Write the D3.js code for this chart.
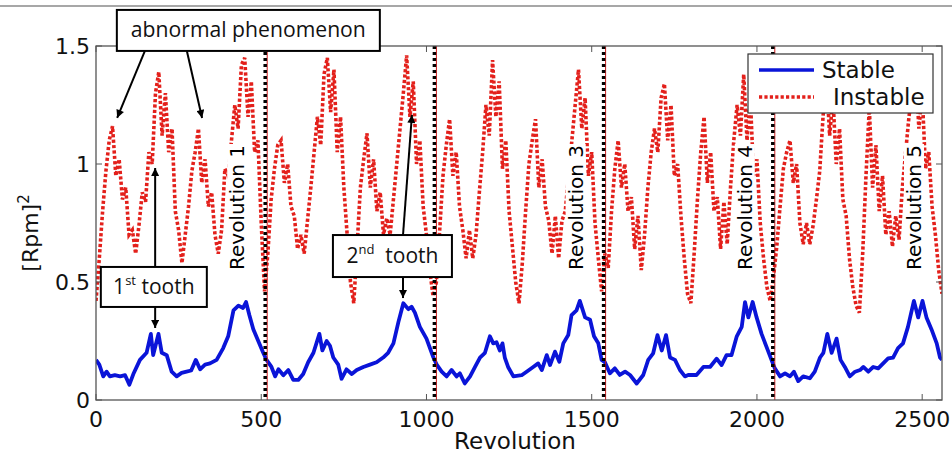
<!DOCTYPE html>
<html><head><meta charset="utf-8">
<script src="https://cdn.jsdelivr.net/npm/d3@7"></script>
<style>body{margin:0;background:#fff;} svg{display:block;}</style>
</head><body><svg id="c" width="952" height="455"></svg>
<script>
// ---------- data ----------
const xTicks = [0, 500, 1000, 1500, 2000, 2500];
const yTicks = [0, 0.5, 1, 1.5];
const xDomain = [0, 2560];
const yDomain = [0, 1.5];
const revolutionBounds = [512, 1024, 1536, 2048];
const revolutionLabels = [
  {rev: 512, text: "Revolution 1"},
  {rev: 1536, text: "Revolution 3"},
  {rev: 2048, text: "Revolution 4"},
  {rev: 2560, text: "Revolution 5"}
];
const seriesNames = ["Stable", "Instable"];

// Instable signal, sampled every 10 revolutions (0 .. 2560)
const instableStep = 10;
const instable = [
  0.42,0.60,0.80,0.97,1.10,1.16,0.95,1.02,0.85,0.90,
  0.70,0.72,0.62,0.74,0.88,0.84,1.05,1.00,1.30,1.39,
  1.12,1.30,1.05,1.15,0.80,0.72,0.58,0.70,0.82,0.97,
  1.05,1.15,0.92,1.02,0.82,0.88,0.70,0.62,0.72,0.98,
  0.95,1.10,1.25,1.15,1.42,1.45,1.20,1.35,1.05,1.10,
  0.75,0.46,0.62,0.85,0.98,1.08,1.10,0.92,1.00,0.82,
  0.78,0.64,0.70,0.62,0.76,0.90,1.05,1.20,1.08,1.38,
  1.45,1.22,1.40,1.05,1.20,0.90,0.70,0.50,0.41,0.65,
  0.90,1.02,1.13,0.90,1.02,0.80,0.88,0.70,0.77,0.70,
  0.85,1.00,1.15,1.30,1.46,1.20,1.35,1.00,1.10,0.82,
  0.70,0.55,0.44,0.50,0.72,0.95,1.08,1.19,0.95,1.05,
  0.82,0.72,0.60,0.72,0.60,0.70,0.88,1.05,1.25,1.12,
  1.44,1.20,1.35,0.98,1.10,0.80,0.65,0.50,0.41,0.58,
  0.80,1.00,1.10,1.19,0.90,1.02,0.82,0.76,0.62,0.78,
  0.60,0.76,0.80,0.95,1.10,1.25,1.40,1.15,1.28,0.95,
  1.05,0.75,0.60,0.46,0.62,0.56,0.80,0.98,1.10,0.90,
  1.00,0.80,0.86,0.64,0.78,0.55,0.70,0.90,1.05,1.15,
  1.05,1.28,1.34,1.10,1.25,0.95,1.00,0.78,0.60,0.45,
  0.41,0.62,0.85,1.05,1.20,0.92,1.05,0.80,0.86,0.64,
  0.84,0.66,0.90,1.10,1.25,1.12,1.38,1.10,1.28,0.95,
  1.02,0.75,0.60,0.48,0.42,0.52,0.65,0.82,0.98,1.05,
  1.10,0.92,1.00,0.75,0.66,0.75,0.66,0.74,0.85,0.97,
  1.20,1.38,1.12,1.28,1.00,1.15,0.85,0.78,0.60,0.48,
  0.40,0.37,0.62,0.95,1.24,0.90,1.08,0.80,0.95,0.70,
  0.80,0.65,0.78,0.68,0.90,1.05,1.20,1.30,1.42,1.15,
  1.30,0.98,1.05,0.82,0.70,0.55,0.45
];

// Stable signal: [revolution, value]
const stable = [
  [0,0.17],[10,0.15],[22,0.10],[32,0.12],[42,0.10],[57,0.105],[73,0.10],[88,0.105],[101,0.065],[113,0.11],
  [133,0.17],[153,0.20],[166,0.28],[173,0.19],[189,0.28],[199,0.20],[214,0.19],[229,0.12],[244,0.10],[259,0.115],
  [274,0.12],[288,0.125],[302,0.17],[315,0.13],[330,0.15],[345,0.155],[365,0.17],[385,0.22],[400,0.27],[416,0.38],
  [431,0.40],[445,0.39],[454,0.415],[464,0.36],[476,0.30],[491,0.25],[506,0.20],
  [516,0.17],[531,0.14],[542,0.10],[552,0.13],[567,0.105],[582,0.127],[597,0.085],[612,0.085],[627,0.11],[642,0.16],
  [658,0.20],[676,0.28],[685,0.21],[698,0.25],[708,0.23],[718,0.18],[733,0.15],[743,0.09],[758,0.13],[774,0.11],
  [789,0.127],[809,0.14],[829,0.15],[849,0.16],[869,0.18],[884,0.20],[900,0.24],[915,0.33],[930,0.41],[945,0.385],
  [955,0.395],[965,0.37],[980,0.31],[1000,0.26],[1021,0.18],
  [1031,0.15],[1046,0.12],[1061,0.10],[1076,0.127],[1091,0.10],[1101,0.113],[1116,0.07],[1132,0.10],[1147,0.14],[1162,0.18],
  [1177,0.20],[1192,0.27],[1202,0.24],[1212,0.245],[1222,0.21],[1230,0.24],[1237,0.18],[1247,0.14],[1263,0.10],[1288,0.105],
  [1303,0.12],[1323,0.14],[1338,0.155],[1349,0.127],[1364,0.19],[1374,0.148],[1389,0.205],[1402,0.162],[1414,0.24],[1429,0.275],
  [1439,0.36],[1454,0.38],[1464,0.42],[1480,0.35],[1495,0.34],[1507,0.27],[1520,0.24],[1530,0.17],[1540,0.16],
  [1555,0.113],[1570,0.134],[1585,0.106],[1601,0.12],[1616,0.106],[1636,0.07],[1656,0.106],[1671,0.17],[1686,0.198],[1699,0.275],
  [1712,0.21],[1725,0.275],[1737,0.18],[1752,0.17],[1767,0.127],[1782,0.10],[1792,0.106],[1817,0.106],[1838,0.14],[1858,0.14],
  [1878,0.175],[1893,0.148],[1908,0.19],[1923,0.19],[1939,0.27],[1954,0.31],[1964,0.415],[1974,0.35],[1987,0.415],[1999,0.35],
  [2014,0.28],[2029,0.225],[2044,0.17],[2054,0.134],
  [2070,0.10],[2085,0.113],[2100,0.10],[2112,0.12],[2125,0.08],[2140,0.10],[2160,0.092],[2175,0.12],[2191,0.18],[2201,0.20],
  [2213,0.28],[2226,0.20],[2241,0.26],[2253,0.17],[2266,0.14],[2281,0.10],[2297,0.12],[2312,0.127],[2322,0.14],[2337,0.12],
  [2352,0.14],[2367,0.134],[2382,0.155],[2397,0.176],[2412,0.18],[2427,0.22],[2442,0.24],[2457,0.31],[2475,0.42],[2488,0.35],
  [2501,0.42],[2513,0.35],[2528,0.30],[2544,0.24],[2554,0.18],[2560,0.17]
];

// Callout annotations, anchored in data coordinates (revolution, value)
const annotations = [
  {text: "abnormal phenomenon", sup: null, tail: "", box: [461, 1.566], arrows: [[[148,1.479],[64,1.195]], [[275,1.479],[321,1.195]]]},
  {text: "1", sup: "st", tail: " tooth", box: [175, 0.479], arrows: [[[179,0.564],[179,0.983]], [[179,0.394],[179,0.305]]]},
  {text: "2", sup: "nd", tail: "  tooth", box: [897, 0.610], arrows: [[[929,0.699],[956,1.208]], [[929,0.521],[929,0.432]]]}
];

// ---------- drawing ----------
const W = 952, H = 455;
const m = {l: 96, r: 10, t: 46, b: 55};
const svg = d3.select("#c");
const x = d3.scaleLinear().domain(xDomain).range([m.l, W - m.r]);
const y = d3.scaleLinear().domain(yDomain).range([H - m.b, m.t]);
const axisFont = "'DejaVu Sans', 'Liberation Sans', Arial, sans-serif";
const noteFont = "'Open Sans', Lato, 'Liberation Sans', sans-serif";
const blue = "#0a14d8", red = "#e3201b";

// top separator line of the figure
svg.append("line").attr("x1", 0).attr("x2", W).attr("y1", 6).attr("y2", 6)
  .attr("stroke", "#8a8a8a").attr("stroke-width", 1.5);

svg.append("clipPath").attr("id", "plotclip").append("rect")
  .attr("x", m.l).attr("y", m.t).attr("width", W - m.l - m.r).attr("height", H - m.t - m.b);

const plot = svg.append("g").attr("clip-path", "url(#plotclip)");

// instable (red dotted)
const instablePts = instable.map((v, i) => [i * instableStep, v]);
plot.append("path").datum(instablePts)
  .attr("fill", "none").attr("stroke", red).attr("stroke-width", 3.6)
  .attr("stroke-dasharray", "3.2,2.2")
  .attr("d", d3.line().x(d => x(d[0])).y(d => y(d[1])));

// stable (blue solid)
plot.append("path").datum(stable)
  .attr("fill", "none").attr("stroke", blue).attr("stroke-width", 3.8)
  .attr("stroke-linejoin", "round")
  .attr("d", d3.line().x(d => x(d[0])).y(d => y(d[1])));

// revolution boundaries
revolutionBounds.forEach(b => {
  plot.append("line").attr("x1", x(b) + 2).attr("x2", x(b) + 2).attr("y1", y(yDomain[1])).attr("y2", y(0))
    .attr("stroke", "#cc1a1a").attr("stroke-width", 1);
  plot.append("line").attr("x1", x(b)).attr("x2", x(b)).attr("y1", y(yDomain[1])).attr("y2", y(0))
    .attr("stroke", "#000").attr("stroke-width", 3.5).attr("stroke-dasharray", "3,3");
});

// axes box
const axisColor = "#555";
svg.append("rect").attr("x", m.l).attr("y", m.t).attr("width", W - m.l - m.r).attr("height", H - m.t - m.b)
  .attr("fill", "none").attr("stroke", axisColor).attr("stroke-width", 1.3);

const tl = 6;
xTicks.forEach(t => {
  svg.append("line").attr("x1", x(t)).attr("x2", x(t)).attr("y1", y(0)).attr("y2", y(0) - tl).attr("stroke", axisColor);
  svg.append("line").attr("x1", x(t)).attr("x2", x(t)).attr("y1", m.t).attr("y2", m.t + tl).attr("stroke", axisColor);
  svg.append("text").attr("x", x(t)).attr("y", y(0) + 27).attr("text-anchor", "middle")
    .attr("font-family", axisFont).attr("font-size", 22).attr("fill", "#111").text(d3.format("d")(t));
});
yTicks.forEach(t => {
  svg.append("line").attr("x1", m.l).attr("x2", m.l + tl).attr("y1", y(t)).attr("y2", y(t)).attr("stroke", axisColor);
  svg.append("line").attr("x1", W - m.r).attr("x2", W - m.r - tl).attr("y1", y(t)).attr("y2", y(t)).attr("stroke", axisColor);
  svg.append("text").attr("x", m.l - 6).attr("y", y(t) + 8).attr("text-anchor", "end")
    .attr("font-family", axisFont).attr("font-size", 22).attr("fill", "#111").text(t === 0 ? "0" : String(t));
});

// axis labels
svg.append("text").attr("x", (m.l + W - m.r) / 2 - 4).attr("y", 449).attr("text-anchor", "middle")
  .attr("font-family", axisFont).attr("font-size", 23).attr("fill", "#111").text("Revolution");
const yl = svg.append("text").attr("transform", "translate(38,233) rotate(-90)").attr("text-anchor", "middle")
  .attr("font-family", axisFont).attr("font-size", 22).attr("fill", "#111");
yl.append("tspan").text("[Rpm]");
yl.append("tspan").attr("font-size", 15).attr("dy", -9).text("2");

// revolution labels (rotated, on white background)
revolutionLabels.forEach(r => {
  const g = svg.append("g").attr("transform", `translate(${x(r.rev) - 21},${y(0) - 130}) rotate(-90)`);
  const bg = g.append("rect").attr("fill", "#fff");
  const t = g.append("text").attr("x", 0).attr("y", 0).attr("text-anchor", "start")
    .attr("font-family", axisFont).attr("font-size", 20).attr("fill", "#000").text(r.text);
  const bb = t.node().getBBox();
  bg.attr("x", bb.x - 1).attr("y", bb.y + 2).attr("width", bb.width + 2).attr("height", bb.height - 4);
});

// arrow marker
svg.append("defs").append("marker").attr("id", "ah").attr("viewBox", "0 0 10 10")
  .attr("refX", 10).attr("refY", 5).attr("markerWidth", 9).attr("markerHeight", 8)
  .attr("markerUnits", "userSpaceOnUse").attr("orient", "auto")
  .append("path").attr("d", "M0,0 L10,5 L0,10 z").attr("fill", "#000");

// annotations
const boxSizes = [[263, 41], [106, 40], [119, 42]];
annotations.forEach((a, i) => {
  a.arrows.forEach(ar => {
    svg.append("line").attr("x1", x(ar[0][0])).attr("y1", y(ar[0][1])).attr("x2", x(ar[1][0])).attr("y2", y(ar[1][1]))
      .attr("stroke", "#000").attr("stroke-width", 2).attr("marker-end", "url(#ah)");
  });
  const [w, h] = boxSizes[i];
  const cx = x(a.box[0]), cy = y(a.box[1]);
  svg.append("rect").attr("x", cx - w / 2).attr("y", cy - h / 2).attr("width", w).attr("height", h)
    .attr("fill", "#fff").attr("stroke", "#000").attr("stroke-width", 2);
  const t = svg.append("text").attr("x", cx).attr("y", cy + 7).attr("text-anchor", "middle")
    .attr("font-family", noteFont).attr("font-size", 21).attr("fill", "#111")
    .attr("xml:space", "preserve").style("white-space", "pre");
  t.append("tspan").text(a.text);
  if (a.sup) {
    t.append("tspan").attr("font-size", 13).attr("dy", -9).text(a.sup);
    t.append("tspan").attr("dy", 9).text(a.tail);
  }
  if (!a.sup) t.attr("textLength", 235).attr("lengthAdjust", "spacingAndGlyphs");
});

// legend
const lg = svg.append("g").attr("transform", `translate(${W - m.r - 194},${m.t + 8})`);
lg.append("rect").attr("width", 185).attr("height", 59).attr("fill", "#fff").attr("stroke", "#333").attr("stroke-width", 1.2);
lg.append("line").attr("x1", 11).attr("x2", 66).attr("y1", 16).attr("y2", 16).attr("stroke", blue).attr("stroke-width", 3.5);
lg.append("line").attr("x1", 11).attr("x2", 66).attr("y1", 43).attr("y2", 43).attr("stroke", red).attr("stroke-width", 3.6).attr("stroke-dasharray", "3.2,2.2");
lg.append("text").attr("x", 74).attr("y", 24).attr("font-family", axisFont).attr("font-size", 23).attr("fill", "#111").text(seriesNames[0]);
lg.append("text").attr("x", 85).attr("y", 51).attr("font-family", axisFont).attr("font-size", 23).attr("fill", "#111").text(seriesNames[1]);
</script></body></html>
